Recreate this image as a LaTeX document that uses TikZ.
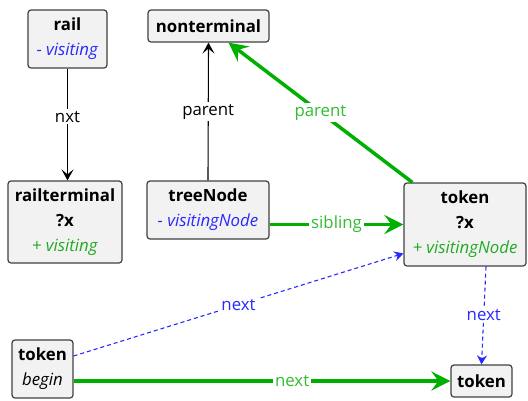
\documentclass[tikz,border=0pt]{standalone}
\usepackage{fontspec}
\setmainfont{Open Sans}
\usepackage{tikz}
\usetikzlibrary{positioning,arrows.meta,calc}
\definecolor{edgegreen}{HTML}{00B000}
\definecolor{labelgreen}{HTML}{33BB33}
\definecolor{attrblue}{HTML}{2828FF}
\definecolor{attrgreen}{HTML}{22AA22}
\definecolor{boxfill}{HTML}{F2F2F2}
\definecolor{boxdraw}{HTML}{404040}

\begin{document}
\begin{tikzpicture}[x=1pt,y=-1pt,
    font=\fontsize{16.8}{25}\selectfont,
    elem/.style={draw=boxdraw, fill=boxfill, line width=1.2pt, rounded corners=3pt,
      align=center, inner sep=0pt},
    plainedge/.style={line width=1.1pt, -{Stealth[length=11pt,width=12pt,inset=5pt]}},
    greenedge/.style={edgegreen, line width=3.5pt, -{Stealth[length=19pt,width=19pt,inset=7pt]}},
    nextedge/.style={attrblue, line width=1.1pt, dash pattern=on 4pt off 3pt,
      -{Stealth[length=9pt,width=10pt]}},
    lbl/.style={fill=white, inner sep=2pt}]
        \useasboundingbox (0,0) rectangle (528,400);

        % Nodes
        \node[elem, minimum width=79, minimum height=58] (rail) at (67.5,39)
          {\textbf{rail}\\\textcolor{attrblue}{\textit{- visiting}}};
        \node[elem, minimum width=121, minimum height=32] (nonterminal) at (208.5,26)
          {\textbf{nonterminal}};
        \node[elem, minimum width=114, minimum height=82] (railterminal) at (65,222)
          {\textbf{railterminal}\\\textbf{?x}\\\textcolor{attrgreen}{\textit{+ visiting}}};
        \node[elem, minimum width=122, minimum height=58] (treeNode) at (208,210)
          {\textbf{treeNode}\\\textcolor{attrblue}{\textit{- visitingNode}}};
        \node[elem, minimum width=122, minimum height=83] (tok) at (465,224.5)
          {\textbf{token}\\\textbf{?x}\\\textcolor{attrgreen}{\textit{+ visitingNode}}};
        \node[elem, minimum width=61, minimum height=58] (begin) at (42.5,369)
          {\textbf{token}\\\textit{begin}};
        \node[elem, minimum width=61, minimum height=32] (tokend) at (481.5,381)
          {\textbf{token}};

        % Black edges
        \draw[plainedge] (rail.south) -- (rail.south |- railterminal.north)
          node[lbl, pos=0.43] {nxt};
        \draw[plainedge] (treeNode.north) -- (nonterminal.south)
          node[lbl, midway] {parent};

        % Green edges
        \draw[greenedge] ($(tok.north west)+(9,0)$) -- ($(nonterminal.south)+(20,0)$)
          node[lbl, text=labelgreen, midway] {parent};
        \draw[greenedge] (treeNode.east |- tok.west) -- (tok.west)
          node[lbl, text=labelgreen, midway] {sibling};
        \draw[greenedge] (begin.east |- tokend.west) -- (tokend.west)
          node[lbl, text=labelgreen, pos=0.58] {next};

        % Dashed next edges
        \draw[nextedge] ($(begin.east)+(0,-13)$) -- ($(tok.west)+(0,29)$)
          node[lbl, midway] {next};
        \draw[nextedge] ($(tok.south)+(21,0)$) -- (tokend.north)
          node[lbl, midway] {next};
      \end{tikzpicture}
\end{document}
